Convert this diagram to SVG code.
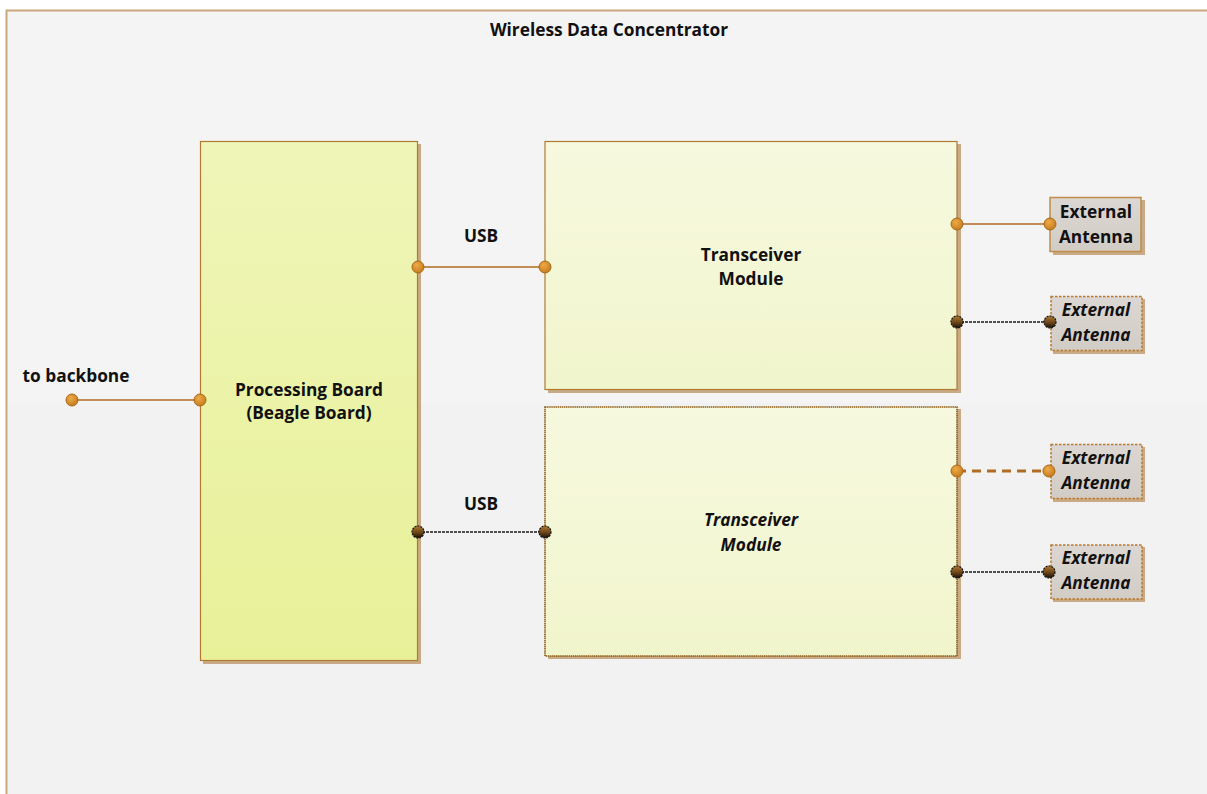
<svg xmlns="http://www.w3.org/2000/svg" width="1207" height="794" viewBox="0 0 1207 794">
  <defs>
    <linearGradient id="bgFill" x1="0" y1="0" x2="0" y2="1">
      <stop offset="0" stop-color="#f4f4f4"/>
      <stop offset="0.49" stop-color="#f4f4f4"/>
      <stop offset="0.49" stop-color="#f2f2f2"/>
      <stop offset="1" stop-color="#f2f2f2"/>
    </linearGradient>
    <linearGradient id="boardFill" x1="0" y1="0" x2="0" y2="1">
      <stop offset="0" stop-color="#eff5b8"/>
      <stop offset="1" stop-color="#e8f198"/>
    </linearGradient>
    <linearGradient id="moduleFill" x1="0" y1="0" x2="0" y2="1">
      <stop offset="0" stop-color="#f7f9df"/>
      <stop offset="1" stop-color="#f1f5cc"/>
    </linearGradient>
    <linearGradient id="antennaFill" x1="0" y1="0" x2="0" y2="1">
      <stop offset="0" stop-color="#dcd7d2"/>
      <stop offset="1" stop-color="#d2ccc6"/>
    </linearGradient>
    <radialGradient id="portOrange" cx="0.4" cy="0.35" r="0.7">
      <stop offset="0" stop-color="#eeaa48"/>
      <stop offset="1" stop-color="#c47a1a"/>
    </radialGradient>
    <linearGradient id="portDark" x1="0" y1="0" x2="0" y2="1">
      <stop offset="0" stop-color="#b07830"/>
      <stop offset="0.55" stop-color="#6a4418"/>
      <stop offset="1" stop-color="#1a1008"/>
    </linearGradient>
    <style>
      .frame { fill: url(#bgFill); stroke: #c9a77c; stroke-width: 2; }
      .shadow { fill: #c9aa86; }
      .board { fill: url(#boardFill); stroke: #b07a30; stroke-width: 1.2; }
      .module { fill: url(#moduleFill); stroke: #b07a30; stroke-width: 1.2; }
      .module-alt { fill: url(#moduleFill); stroke: #8e5c14; stroke-width: 1.6; stroke-dasharray: 1.5 0.6; }
      .antenna { fill: url(#antennaFill); stroke: #c08c48; stroke-width: 1.5; }
      .antenna-alt { fill: url(#antennaFill); stroke: #b87a30; stroke-width: 1.5; stroke-dasharray: 2.5 1.5; }
      .link { fill: none; stroke: #b06c22; stroke-width: 1.6; }
      .link-dotted { fill: none; stroke: #1a1a1a; stroke-width: 1.5; stroke-dasharray: 3 1; }
      .link-dashed { fill: none; stroke: #b06c22; stroke-width: 3; stroke-dasharray: 9 6; }
      .port { fill: url(#portOrange); stroke: #a86818; stroke-width: 1; }
      .port-dark { fill: url(#portDark); stroke: #111; stroke-width: 1.2; stroke-dasharray: 2 1; }
      text { font-family: "Open Sans", "Noto Sans", "Liberation Sans", sans-serif; font-weight: 700; fill: #111; text-anchor: middle; font-size: 17.3px; }
      .it { font-style: italic; }
    </style>
  </defs>

  <!-- container -->
  <g id="container">
    <rect class="frame" x="6.5" y="10.5" width="1215" height="800"/>
    <text x="609" y="36">Wireless Data Concentrator</text>
  </g>

  <!-- connectors -->
  <g id="connectors">
    <line class="link" x1="72" y1="400" x2="200" y2="400"/>
    <line class="link" x1="418" y1="267" x2="545" y2="267"/>
    <line class="link-dotted" x1="418" y1="532" x2="545" y2="532"/>
    <line class="link" x1="957" y1="224" x2="1050" y2="224"/>
    <line class="link-dotted" x1="957" y1="322" x2="1050" y2="322"/>
    <line class="link-dashed" x1="957" y1="471" x2="1050" y2="471"/>
    <line class="link-dotted" x1="957" y1="572" x2="1050" y2="572"/>
    <text x="481" y="242">USB</text>
    <text x="481" y="510">USB</text>
    <text x="76" y="382">to backbone</text>
  </g>

  <!-- processing board -->
  <g id="processing-board">
    <rect class="shadow" x="203" y="144" width="218" height="520"/>
    <rect class="board" x="200.5" y="141.5" width="217" height="519"/>
    <text x="309" y="396">Processing Board</text>
    <text x="309" y="419">(Beagle Board)</text>
  </g>

  <!-- transceiver module 1 -->
  <g id="transceiver-1">
    <rect class="shadow" x="548" y="144" width="413" height="249"/>
    <rect class="module" x="545" y="141.5" width="412" height="248"/>
    <text x="751" y="261">Transceiver</text>
    <text x="751" y="285">Module</text>
  </g>

  <!-- transceiver module 2 -->
  <g id="transceiver-2">
    <rect class="shadow" x="548" y="409" width="413" height="250"/>
    <rect class="module-alt" x="545" y="407" width="412" height="249"/>
    <text class="it" x="751" y="526">Transceiver</text>
    <text class="it" x="751" y="551">Module</text>
  </g>

  <!-- antennas -->
  <g id="antenna-1">
    <rect class="shadow" x="1053" y="200" width="92" height="55"/>
    <rect class="antenna" x="1050" y="197.5" width="91" height="54"/>
    <text x="1096" y="218">External</text>
    <text x="1096" y="243">Antenna</text>
  </g>
  <g id="antenna-2">
    <rect class="shadow" x="1053" y="299" width="92" height="55"/>
    <rect class="antenna-alt" x="1051" y="296.5" width="91" height="54"/>
    <text class="it" x="1096" y="316">External</text>
    <text class="it" x="1096" y="341">Antenna</text>
  </g>
  <g id="antenna-3">
    <rect class="shadow" x="1053" y="447" width="92" height="55"/>
    <rect class="antenna-alt" x="1051" y="444.5" width="91" height="54"/>
    <text class="it" x="1096" y="464">External</text>
    <text class="it" x="1096" y="489">Antenna</text>
  </g>
  <g id="antenna-4">
    <rect class="shadow" x="1053" y="547" width="92" height="55"/>
    <rect class="antenna-alt" x="1051" y="545" width="91" height="54"/>
    <text class="it" x="1096" y="564">External</text>
    <text class="it" x="1096" y="589">Antenna</text>
  </g>

  <!-- ports -->
  <g id="ports">
    <circle class="port" cx="72" cy="400" r="6"/>
    <circle class="port" cx="200" cy="400" r="6"/>
    <circle class="port" cx="418" cy="267" r="6"/>
    <circle class="port" cx="545" cy="267" r="6"/>
    <circle class="port-dark" cx="418" cy="532" r="6"/>
    <circle class="port-dark" cx="545" cy="532" r="6"/>
    <circle class="port" cx="957" cy="224" r="6"/>
    <circle class="port" cx="1050" cy="224" r="6"/>
    <circle class="port-dark" cx="957" cy="322" r="6"/>
    <circle class="port-dark" cx="1050" cy="322" r="6"/>
    <circle class="port" cx="957" cy="471" r="6"/>
    <circle class="port" cx="1049" cy="471" r="6"/>
    <circle class="port-dark" cx="957" cy="572" r="6"/>
    <circle class="port-dark" cx="1049" cy="572" r="6"/>
  </g>
</svg>
